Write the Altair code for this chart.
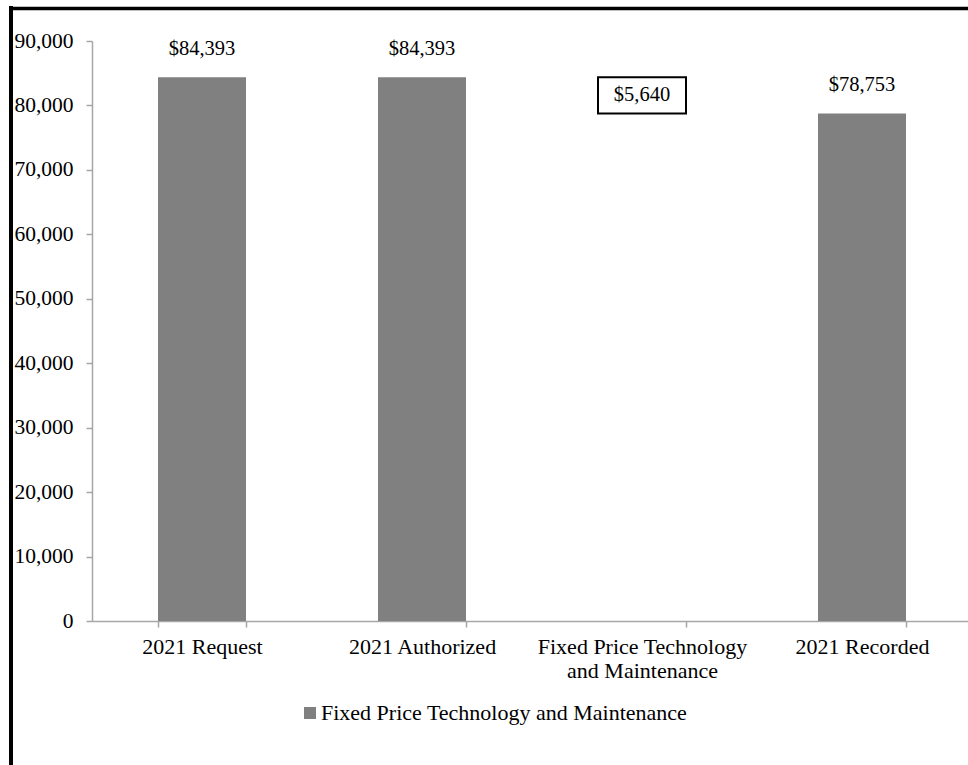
import altair as alt
import pandas as pd

# Category labels along the x axis
categories = ["2021 Request", "2021 Authorized",
              "Fixed Price Technology and Maintenance", "2021 Recorded"]
# Dollar amounts for each step
amounts = [84393, 84393, 5640, 78753]
series_name = "Fixed Price Technology and Maintenance"

SERIF = "Liberation Serif"
AXIS_FS = 22
LABEL_FS = 20.5
LEGEND_FS = 22

# Solid bars: request, authorized, recorded
bars_df = pd.DataFrame({
    "category": [categories[0], categories[1], categories[3]],
    "value": [amounts[0], amounts[1], amounts[3]],
    "series": series_name,
})
bars_df["label"] = bars_df["value"].map(lambda v: f"${v:,}")

# Floating outlined box for the adjustment (between recorded and authorized)
step_df = pd.DataFrame({
    "category": [categories[2]],
    "top": [amounts[1]],
    "bottom": [amounts[1] - amounts[2]],
    "label": [f"${amounts[2]:,}"],
})
step_df["mid"] = (step_df["top"] + step_df["bottom"]) / 2

x_enc = alt.X(
    "category:N",
    sort=categories,
    scale=alt.Scale(range=[0, 880], paddingInner=0.6, paddingOuter=0.3),
    axis=alt.Axis(
        title=None, labelAngle=0, tickBand="extent", tickSize=6,
        labelPadding=9, labelLineHeight=24, labelLimit=0,
        labelExpr="datum.label == 'Fixed Price Technology and Maintenance' ? "
                  "['Fixed Price Technology', 'and Maintenance'] : datum.label",
    ),
)
y_scale = alt.Scale(domain=[0, 90000], nice=False)
y_axis = alt.Axis(title=None, values=list(range(0, 90001, 10000)), format=",.0f",
                  tickSize=6, labelPadding=13, grid=False, labelFontSize=21.5)

bars = alt.Chart(bars_df).mark_bar(width=88).encode(
    x=x_enc,
    y=alt.Y("value:Q", scale=y_scale, axis=y_axis),
    color=alt.Color(
        "series:N",
        scale=alt.Scale(range=["#808080"]),
        legend=alt.Legend(
            title=None, orient="none", legendX=207, legendY=661,
            symbolType="square", symbolSize=144, symbolStrokeWidth=0,
            labelFont=SERIF, labelFontSize=LEGEND_FS, labelColor="black",
            labelOffset=0, labelLimit=0,
        ),
    ),
)

bar_labels = alt.Chart(bars_df).mark_text(
    font=SERIF, fontSize=LABEL_FS, color="black", dy=-22, baseline="alphabetic"
).encode(x=alt.X("category:N", sort=categories), y="value:Q", text="label:N")

box = alt.Chart(step_df).mark_bar(
    width=88, fill="white", stroke="black", strokeWidth=2
).encode(x=alt.X("category:N", sort=categories), y="top:Q", y2="bottom:Q")

box_label = alt.Chart(step_df).mark_text(
    font=SERIF, fontSize=LABEL_FS, color="black", baseline="middle"
).encode(x=alt.X("category:N", sort=categories), y="mid:Q", text="label:N")

# Outer frame: thick black edges along the left and top
frame_df = pd.DataFrame({"k": [0]})
frame_left = alt.Chart(frame_df).mark_rule(color="black", strokeWidth=4).encode(
    x=alt.value(-81), y=alt.value(-35), y2=alt.value(740)
)
frame_top = alt.Chart(frame_df).mark_rule(color="black", strokeWidth=3.5).encode(
    x=alt.value(-83), x2=alt.value(900), y=alt.value(-32.5)
)

chart = alt.layer(bars, bar_labels, box, box_label, frame_left, frame_top).properties(
    width=876, height=580,
    autosize=alt.AutoSizeParams(type="none"),
    padding={"left": 92, "top": 41, "right": 0, "bottom": 144},
    background="white",
).configure_view(stroke=None).configure_axis(
    labelFont=SERIF, labelFontSize=AXIS_FS, labelColor="black",
    domainColor="#a6a6a6", tickColor="#a6a6a6", domainWidth=1.5, tickWidth=1.5,
)

chart.save("out.html", embed_options={"renderer": "svg", "actions": False})
